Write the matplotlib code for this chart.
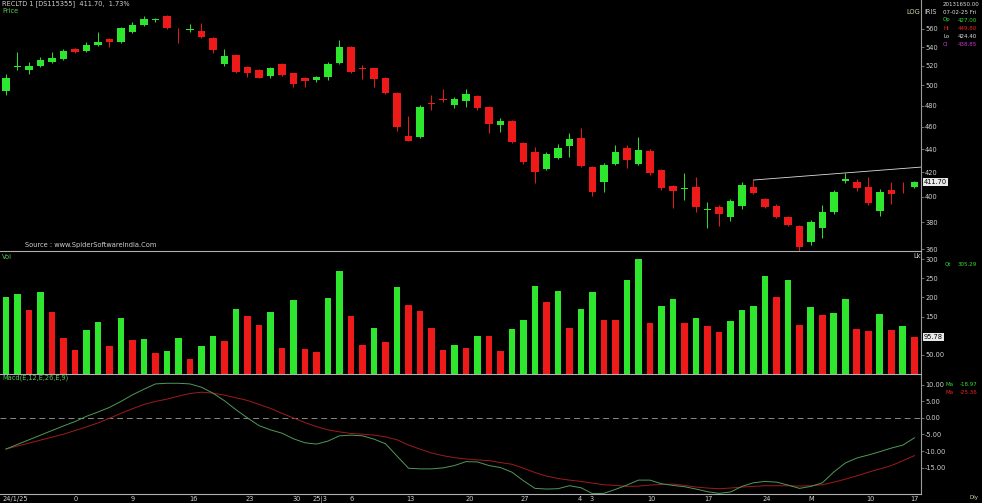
import numpy as np
import matplotlib
matplotlib.use("Agg")
import matplotlib.pyplot as plt
from matplotlib.ticker import FixedLocator, NullLocator, FuncFormatter

# daily candles (open, high, low, close)
opens = [494, 519, 515.7, 520, 524, 527.2, 538, 535.8, 542, 549, 545.5, 556.6, 564.5, 570, 574.8, 560,
         559, 557.8, 550, 522, 531.5, 518.8, 515.7, 509.5, 522, 512.6, 507.5, 505.5, 508.5, 523,
         540, 517.7, 517.7, 507.5, 492.4, 451.7, 450.8, 482, 486.5, 481.1, 484.4, 489.5, 478.8, 461.8,
         465.6, 445.5, 437.5, 422.7, 432.2, 442.8, 449.9, 424.4, 411.9, 427, 441, 427, 438.3, 421.9,
         408.5, 406, 407.7, 389.5, 391.7, 383.9, 392.5, 407.7, 398, 392.5, 383.9, 377, 365, 375.5,
         387.7, 413, 411.9, 407.7, 388.5, 405.3, 404.8, 407.7]
highs = [511.6, 534.7, 524, 529.4, 534.7, 537.9, 539, 545.5, 556.6, 550, 562.2, 567.9, 574.8, 573, 576, 561,
         565.6, 566.8, 551, 538, 532.6, 520, 516.7, 518.8, 523, 513, 508.5, 509.5, 524, 547.7,
         541, 521, 518, 508, 493.5, 470.2, 481, 490.5, 496.4, 488.8, 496.4, 490.5, 479.5, 468.5,
         466.5, 446, 441.9, 437, 444.5, 454.5, 459, 425, 428, 443.7, 443.7, 450.8, 440, 422.7,
         409.3, 419.4, 416, 395.6, 393.3, 398, 411.9, 413.5, 398.8, 394, 384.7, 378, 381.6, 393.3,
         405, 419.4, 414.3, 416, 406, 411.9, 411.9, 412.5]
lows = [490.5, 515.7, 511.6, 518.8, 523, 526.2, 533.7, 534.7, 541, 540, 544, 556, 563, 567.9, 560, 544.4,
        556.6, 550, 533.7, 520, 512.6, 508.5, 507, 507.5, 509.5, 498.4, 498.4, 503, 505.5, 522,
        512.6, 506.5, 498.4, 491, 456.2, 447, 450, 476, 483.5, 478, 479, 476, 454.5, 455.3,
        445, 427, 411, 421.5, 431.3, 433, 424.4, 400.4, 403.7, 426, 423.6, 426, 418, 405.3,
        390.9, 397.2, 387.7, 375.5, 377, 380.8, 390.1, 402, 391, 383, 377, 358.6, 362.9, 367.9,
        386, 411, 404.5, 393.3, 384.7, 394, 403, 407]
closes = [507.5, 520, 520, 526, 528.3, 535.8, 534.7, 542.2, 545.5, 545.5, 561.1, 564.5, 571.3, 571, 561.1, 559.5,
          560, 551, 536.8, 530.4, 513.7, 512.6, 507.5, 517.7, 510.6, 501.4, 504.5, 508.5, 522, 540,
          513.7, 517, 506.5, 492.4, 459.9, 447.2, 478.8, 481.5, 486, 486.6, 491.5, 477.8, 462.7, 465.6,
          446.3, 428.7, 420.2, 435.8, 441, 449, 425.3, 403.7, 426.2, 437.5, 430.5, 439.2, 419.4, 406.9,
          404.5, 407, 391.7, 390.5, 386.2, 396.4, 409.5, 402.8, 391.7, 383.9, 377.8, 361.4, 380, 387.7,
          403.7, 414, 406.9, 394.8, 403.7, 402, 404.2, 411.7]

# volume (lakhs) and bar colour (1 = green, 0 = red)
volume = [202, 209, 167, 215, 161, 93, 63, 114, 135, 73, 147, 89, 91, 56, 59, 93, 40, 73, 100, 87,
          170, 151, 127, 162, 69, 194, 64, 58, 199, 268, 151, 76, 120, 83, 226, 181, 165, 120, 62, 75,
          69, 99, 98, 61, 117, 140, 229, 187, 217, 120, 169, 213, 142, 142, 245, 300, 133, 178, 197, 133,
          147, 124, 109, 138, 166, 178, 257, 200, 245, 127, 174, 154, 160, 195, 117, 111, 156, 116, 124, 95.78]
vol_up = [1, 1, 0, 1, 0, 0, 0, 1, 1, 0, 1, 0, 1, 0, 1, 1, 0, 1, 1, 0,
          1, 0, 0, 1, 0, 1, 0, 0, 1, 1, 0, 0, 1, 0, 1, 0, 0, 0, 0, 1,
          0, 1, 0, 0, 1, 1, 1, 0, 1, 0, 1, 1, 0, 0, 1, 1, 0, 1, 1, 0,
          1, 0, 0, 1, 1, 1, 1, 0, 1, 0, 1, 0, 1, 1, 0, 0, 1, 0, 1, 0]

# MACD(12,26,9) and signal
macd = [-9.4, -8.0, -6.6, -5.2, -3.8, -2.4, -1.1, 0.5, 1.8, 3.2, 5.0, 7.0, 8.7, 10.3, 10.5, 10.5,
        10.3, 9.3, 7.5, 5.2, 2.5, 0.0, -2.3, -3.6, -4.6, -6.3, -7.5, -7.9, -7.0, -5.4, -5.2, -5.4,
        -6.4, -7.8, -11.5, -15.2, -15.4, -15.4, -15.1, -14.4, -13.2, -13.3, -14.4, -15.0, -16.4, -19.0,
        -21.3, -21.5, -21.4, -20.5, -21.1, -22.9, -22.8, -21.6, -20.3, -18.8, -18.8, -19.9, -20.4, -20.8,
        -21.5, -22.3, -22.8, -22.4, -20.7, -19.6, -19.2, -19.4, -20.3, -21.3, -20.7, -19.6, -16.3, -13.6,
        -12.1, -11.2, -10.2, -9.1, -8.2, -6.0]
signal = [-9.4, -8.5, -7.6, -6.7, -5.8, -4.9, -3.8, -2.7, -1.5, -0.1, 1.4, 2.8, 4.1, 5.0, 5.7, 6.6,
          7.4, 7.8, 7.5, 6.9, 6.1, 5.3, 4.1, 2.9, 1.4, 0.0, -1.4, -2.6, -3.6, -4.2, -4.7, -4.9,
          -5.2, -5.7, -6.6, -8.2, -9.4, -10.6, -11.4, -12.0, -12.4, -12.7, -12.9, -13.5, -14.0, -15.2,
          -16.5, -17.6, -18.3, -18.8, -19.2, -19.7, -20.2, -20.4, -20.7, -20.6, -20.3, -20.1, -20.0, -20.4,
          -20.9, -21.2, -21.4, -21.2, -20.9, -20.7, -20.5, -20.5, -20.5, -20.6, -20.5, -20.2, -19.4, -18.5,
          -17.5, -16.4, -15.4, -14.4, -12.9, -11.4]

# trendline drawn on the price pane
trend_x = [65, 79.6]
trend_y = [413.5, 424.4]

price_ticks = [360, 380, 400, 420, 440, 460, 480, 500, 520, 540, 560]
vol_ticks = [50, 150, 200, 250, 300]
vol_tick_labels = ["50.00", "150", "200", "250", "300"]
macd_ticks = [10, 5, 0, -5, -10, -15]
macd_tick_labels = ["10.00", "5.00", "0.00", "-5.00", "-10.00", "-15.00"]
date_pos = [0.8, 6.1, 11, 16.3, 21.2, 25.3, 27.3, 30.1, 35.2, 40.3, 45.1, 49.9, 50.9, 56.1, 61.1,
            66.2, 70, 75.2, 79]
date_labels = ["24/1/25", "0", "9", "16", "23", "30", "25|3", "6", "13", "20", "27", "4", "3", "10",
               "17", "24", "M", "10", "17"]

GREEN = "#2ee62e"
RED = "#ee1a1a"
AXC = "#9a9a9a"
TXT = "#d0d0d0"
W, H = 982, 503

fig = plt.figure(figsize=(W / 100, H / 100), dpi=100, facecolor="black")


def box(x0, y0, x1, y1):
    return [x0 / W, 1 - y1 / H, (x1 - x0) / W, (y1 - y0) / H]


def ftext(x, y, s, color=TXT, size=4.8, **kw):
    fig.text(x / W, 1 - y / H, s, color=color, fontsize=size, va="center", ha="left", **kw)


ax_p = fig.add_axes(box(0, 0, 921, 251))
ax_v = fig.add_axes(box(0, 251, 921, 374), sharex=ax_p)
ax_m = fig.add_axes(box(0, 374, 921, 494), sharex=ax_p)

for ax in (ax_p, ax_v, ax_m):
    ax.set_facecolor("black")
    for s in ax.spines.values():
        s.set_visible(False)
    ax.spines["right"].set_visible(True)
    ax.spines["right"].set_color(AXC)
    ax.spines["right"].set_linewidth(0.8)
    ax.yaxis.tick_right()
    ax.tick_params(axis="y", colors=AXC, labelcolor=TXT, labelsize=4.8, length=2, width=0.5, pad=1)
    ax.tick_params(axis="x", length=0)
for ax in (ax_v, ax_m):
    ax.spines["top"].set_visible(True)
    ax.spines["top"].set_color("#b0b0b0")
    ax.spines["top"].set_linewidth(0.8)
ax_m.spines["bottom"].set_visible(True)
ax_m.spines["bottom"].set_color("#b0b0b0")
ax_m.spines["bottom"].set_linewidth(0.8)

x = np.arange(len(opens))
o = np.array(opens)
c = np.array(closes)
up = c >= o
cols = np.where(up, GREEN, RED)

# price pane
ax_p.vlines(x, lows, highs, colors=cols, linewidth=0.7)
body_lo = np.minimum(o, c)
body_h = np.maximum(np.abs(c - o), 0.7)
ax_p.bar(x, body_h, bottom=body_lo, width=0.62, color=cols, linewidth=0)
ax_p.plot(trend_x, trend_y, color="#dddddd", linewidth=0.6)
ax_p.set_yscale("log")
ax_p.set_ylim(358.6, 593.5)
ax_p.yaxis.set_major_locator(FixedLocator(price_ticks))
ax_p.yaxis.set_minor_locator(NullLocator())
ax_p.yaxis.set_major_formatter(FuncFormatter(lambda v, p: "%d" % round(v)))
ax_p.set_xlim(-0.52, 79.57)
ax_p.tick_params(axis="x", labelbottom=False)

# volume pane
vcols = [GREEN if u else RED for u in vol_up]
ax_v.bar(x, volume, width=0.6, color=vcols, linewidth=0)
ax_v.set_ylim(0, 321)
ax_v.set_yticks(vol_ticks)
ax_v.set_yticklabels(vol_tick_labels)
ax_v.tick_params(axis="x", labelbottom=False)

# macd pane
ax_m.axhline(0, color="#8a8a8a", linewidth=0.7, dashes=(6, 4))
ax_m.plot(x, signal, color="#a01c1c", linewidth=0.7)
ax_m.plot(x, macd, color="#4f9a5a", linewidth=0.7)
ax_m.set_ylim(-23.0, 13.3)
ax_m.set_yticks(macd_ticks)
ax_m.set_yticklabels(macd_tick_labels)
ax_m.set_xticks(date_pos)
ax_m.set_xticklabels(date_labels)
ax_m.tick_params(axis="x", labelcolor=TXT, labelsize=4.8, pad=1.5)

# value tags on the right axis
ax_p.annotate("411.70", xy=(1.0, closes[-1]), xycoords=("axes fraction", "data"), xytext=(2, 0),
              textcoords="offset points", fontsize=4.8, color="black", va="center", ha="left",
              bbox=dict(boxstyle="square,pad=0.15", fc="#e8e8e8", ec="none"))
ax_v.annotate("95.78", xy=(1.0, volume[-1]), xycoords=("axes fraction", "data"), xytext=(2, 0),
              textcoords="offset points", fontsize=4.8, color="black", va="center", ha="left",
              bbox=dict(boxstyle="square,pad=0.15", fc="#e8e8e8", ec="none"))

# headers and side info
ftext(2, 4, "RECLTD 1 [DS115355]  411.70,  1.73%")
ftext(2, 11, "Price", color="#55cc55")
ftext(25, 245, "Source : www.SpiderSoftwareIndia.Com")
ftext(2, 257, "Vol", color="#55cc55")
ftext(2, 378, "Macd(E,12,E,26,E,9)", color="#55cc55")
ftext(906, 12, "LOG", color="#d8d8a0")
ftext(924, 12, "IRIS", color=TXT)
ftext(913, 256, "Lk", color=TXT)
SZ = 4.0
ftext(943, 4, "20131650.00", color="#e0e0e0", size=SZ)
ftext(943, 12, "07-02-25 Fri", color="#e0e0e0", size=SZ)
ftext(943, 20, "Op", color="#33dd33", size=SZ)
ftext(958, 20, "427.00", color="#33dd33", size=SZ)
ftext(943, 28, "Hi", color="#ee2222", size=SZ)
ftext(958, 28, "449.80", color="#ee2222", size=SZ)
ftext(943, 36, "Lo", color="#e0e0e0", size=SZ)
ftext(958, 36, "424.40", color="#e0e0e0", size=SZ)
ftext(943, 44, "Cl", color="#cc33cc", size=SZ)
ftext(958, 44, "438.85", color="#cc33cc", size=SZ)
ftext(945, 264, "Qt", color="#33dd33", size=SZ)
ftext(958, 264, "305.29", color="#33dd33", size=SZ)
ftext(945, 385, "Ma", color="#33dd33", size=SZ)
ftext(960, 385, "-18.97", color="#33dd33", size=SZ)
ftext(945, 392, "Ma", color="#ee2222", size=SZ)
ftext(960, 392, "-25.36", color="#ee2222", size=SZ)
ftext(970, 497, "Dly", color="#d8d8a0", size=SZ)

fig.savefig("out.png", dpi=100, facecolor="black")
